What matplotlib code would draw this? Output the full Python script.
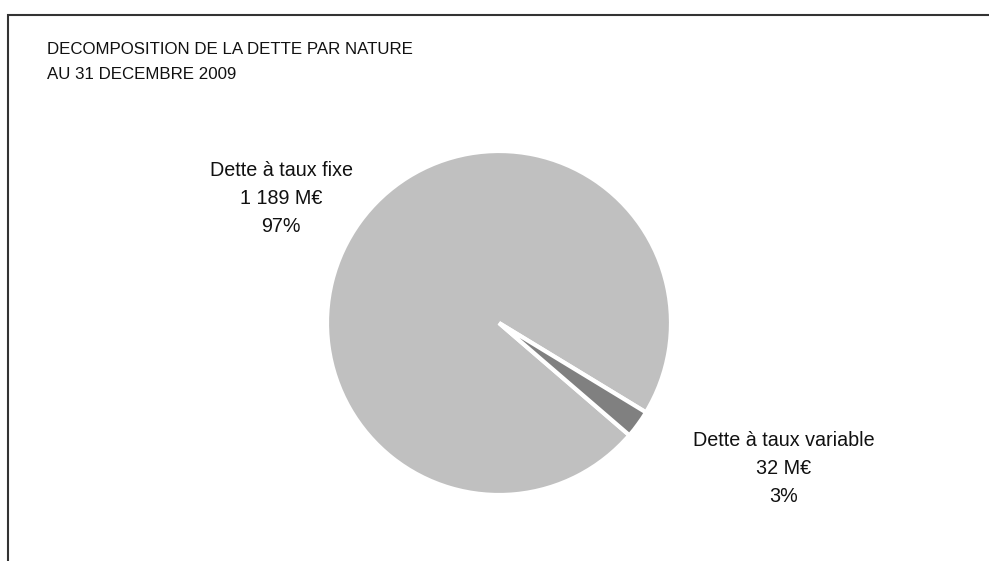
import matplotlib.pyplot as plt

plt.rcParams['font.family'] = ['Liberation Sans', 'DejaVu Sans']

# data
categories = ["Dette à taux fixe", "Dette à taux variable"]
amounts = [1189, 32]  # M€
colors = ["#c0c0c0", "#808080"]
title_lines = ["DECOMPOSITION DE LA DETTE PAR NATURE", "AU 31 DECEMBRE 2009"]

W, H = 989, 561
fig = plt.figure(figsize=(W / 100, H / 100), dpi=100)
ax = fig.add_axes([0, 0, 1, 1])

total = sum(amounts)
ax.pie(amounts, colors=colors, explode=[0, 0.09], startangle=-31.3,
       center=(499, H - 323), radius=172,
       wedgeprops=dict(edgecolor="white", linewidth=3))

ax.set_xlim(0, W)
ax.set_ylim(0, H)
ax.set_aspect("equal")
ax.axis("off")

# frame lines (top and left only)
ax.plot([8, 8, W], [0, H - 15, H - 15], color="#333333", lw=1.5,
        solid_joinstyle="miter")

# title (y = baseline of last line)
ax.text(47, H - 79, "\n".join(title_lines), ha="left", va="baseline",
        fontsize=12.2, color="#111111", linespacing=1.85)

# slice labels
def fmt(v):
    return f"{v:,}".replace(",", " ")

label_pos = [(281, H - 231.5), (784, H - 501.5)]
for name, amt, (x, y) in zip(categories, amounts, label_pos):
    pct = round(amt / total * 100)
    ax.text(x, y, f"{name}\n{fmt(amt)} M€\n{pct}%", ha="center", va="baseline",
            multialignment="center", fontsize=14.2, color="#111111",
            linespacing=1.57)

fig.savefig("out.png", dpi=100)
